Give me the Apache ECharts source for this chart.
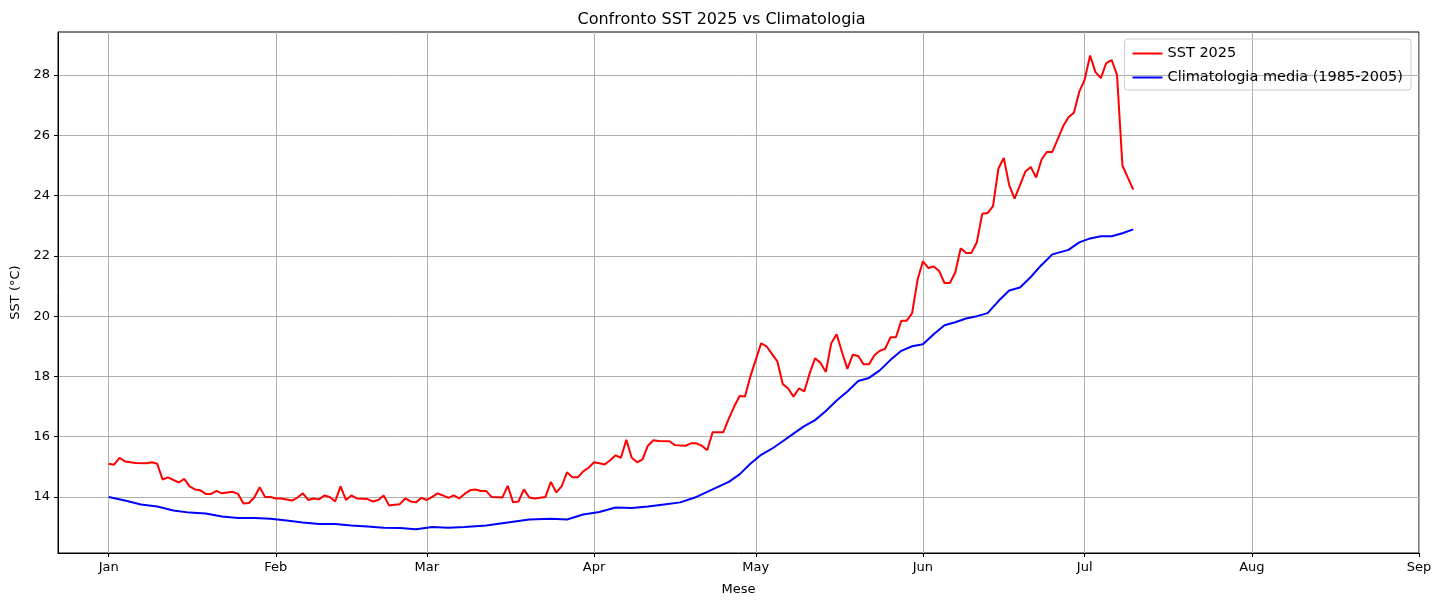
<!DOCTYPE html>
<html>
<head>
<meta charset="utf-8">
<script src="https://cdn.jsdelivr.net/npm/echarts@6/dist/echarts.min.js"></script>
<style>html,body{margin:0;background:#fff}#c{width:1443px;height:606px}</style>
</head>
<body>
<div id="c"></div>
<script>
// giorni dal 1 gennaio 2025
var monthDays = [0, 31, 59, 90, 120, 151, 181, 212, 243];
var monthLabels = ['Jan', 'Feb', 'Mar', 'Apr', 'May', 'Jun', 'Jul', 'Aug', 'Sep'];
var yTicks = [14, 16, 18, 20, 22, 24, 26, 28];

var sstDays = [0,1,2,3,5,7,8,9,10,11,13,14,15,16,17,18,19,20,21,23,24,25,26,27,28,
  29,30,31,32,34,35,36,37,38,39,40,41,42,43,
  44,45,46,48,49,50,51,52,53,54,55,56,57,58,59,60,61,62,63,64,65,66,67,68,69,70,71,73,74,75,76,77,78,79,81,82,83,84,85,86,87,88,89,90,
  91,92,93,94,95,96,97,98,99,100,101,102,104,105,107,108,109,110,111,112,113,114,115,116,117,118,119,120,121,122,123,124,125,126,127,128,129,130,131,132,133,134,135,136,137,138,139,140,141,142,143,144,145,146,147,148,149,150,151,
  152,153,154,155,156,157,158,159,160,161,162,163,164,165,166,167,168,169,170,171,172,173,174,175,177,178,179,180,181,182,183,184,185,186,187,188,189,190];
var sst2025 = [15.1,15.07,15.3,15.18,15.13,15.12,15.15,15.1,14.58,14.65,14.48,14.6,14.35,14.25,14.22,14.1,14.1,14.2,14.12,14.17,14.1,13.78,13.8,13.98,14.32,
  14.0,14.0,13.95,13.95,13.88,13.98,14.12,13.9,13.95,13.92,14.05,14.0,13.85,14.35,
  13.9,14.05,13.95,13.93,13.85,13.9,14.05,13.72,13.74,13.76,13.95,13.85,13.82,13.97,13.9,14.0,14.12,14.05,13.97,14.05,13.95,14.1,14.22,14.25,14.2,14.2,14.0,13.98,14.37,13.82,13.85,14.25,13.98,13.95,14.0,14.5,14.15,14.35,14.82,14.65,14.65,14.85,14.97,15.15,
  15.12,15.08,15.22,15.38,15.3,15.9,15.3,15.15,15.25,15.7,15.88,15.86,15.85,15.72,15.7,15.78,15.78,15.7,15.55,16.15,16.15,16.15,16.6,17.0,17.35,17.33,18.0,18.55,19.1,19.0,18.75,18.5,17.75,17.6,17.33,17.6,17.5,18.1,18.6,18.45,18.15,19.1,19.4,18.8,18.25,18.72,18.68,18.4,18.4,18.7,18.85,18.92,19.3,19.3,19.85,19.85,20.1,21.2,21.82,
  21.6,21.65,21.5,21.1,21.1,21.45,22.25,22.1,22.1,22.45,23.4,23.42,23.65,24.9,25.25,24.35,23.9,24.35,24.8,24.95,24.6,25.2,25.45,25.45,26.3,26.6,26.75,27.45,27.85,28.65,28.1,27.9,28.4,28.5,28.0,25.0,24.6,24.2];

var climDays = [0,3,6,9,12,15,18,21,24,27,30,33,36,39,42,45,48,51,54,57,60,63,66,70,74,78,82,85,88,91,94,97,100,103,106,109,112,115,117,119,121,123,125,127,129,131,133,135,137,139,141,143,145,147,149,151,153,155,157,159,161,163,165,167,169,171,173,175,178,180,182,184,186,188,190];
var climMedia = [14.0,13.88,13.75,13.68,13.55,13.48,13.45,13.35,13.3,13.3,13.28,13.22,13.15,13.1,13.1,13.05,13.02,12.98,12.97,12.93,13.0,12.98,13.0,13.05,13.15,13.25,13.28,13.25,13.42,13.5,13.65,13.63,13.68,13.75,13.82,14.0,14.25,14.5,14.75,15.1,15.4,15.6,15.85,16.1,16.35,16.55,16.85,17.2,17.5,17.85,17.95,18.2,18.55,18.85,19.0,19.07,19.4,19.7,19.8,19.92,20.0,20.1,20.5,20.85,20.95,21.3,21.7,22.05,22.2,22.45,22.58,22.65,22.65,22.75,22.88];

function pairs(xs, ys) {
  return xs.map(function (d, i) { return [d, ys[i]]; });
}

var chart = echarts.init(document.getElementById('c'));
var font = 'DejaVu Sans';
chart.setOption({
  animation: false,
  textStyle: { fontFamily: font },
  title: {
    text: 'Confronto SST 2025 vs Climatologia',
    left: 'center',
    top: 7,
    textStyle: { fontFamily: font, fontSize: 16, fontWeight: 'normal', color: '#000' }
  },
  legend: {
    orient: 'vertical',
    right: 32,
    top: 39,
    itemWidth: 30,
    itemHeight: 2,
    itemGap: 9,
    padding: [7, 8, 5, 8],
    borderColor: '#ccc',
    borderWidth: 1,
    borderRadius: 3,
    icon: 'rect',
    textStyle: { fontFamily: font, fontSize: 14.5, color: '#000' },
    data: ['SST 2025', 'Climatologia media (1985-2005)']
  },
  grid: { left: 58, right: 24, top: 32, bottom: 53, show: true, borderColor: '#000', borderWidth: 1 },
  xAxis: {
    type: 'value',
    min: -9.4,
    max: 243,
    name: 'Mese',
    nameLocation: 'middle',
    nameGap: 30,
    nameTextStyle: { fontFamily: font, fontSize: 13, color: '#000' },
    axisLine: { onZero: false, lineStyle: { color: '#000' } },
    axisTick: { show: true, length: 4, customValues: monthDays, lineStyle: { color: '#000' } },
    axisLabel: {
      customValues: monthDays,
      color: '#000', fontSize: 13, margin: 8,
      formatter: function (v) { return monthLabels[monthDays.indexOf(v)]; }
    },
    splitLine: { show: true, lineStyle: { color: '#b0b0b0', width: 1 } }
  },
  yAxis: {
    type: 'value',
    min: 12.14,
    max: 29.43,
    name: 'SST (°C)',
    nameLocation: 'middle',
    nameGap: 36,
    nameRotate: 90,
    nameTextStyle: { fontFamily: font, fontSize: 13, color: '#000' },
    axisLine: { show: true, onZero: false, lineStyle: { color: '#000' } },
    axisTick: { show: true, length: 4, customValues: yTicks, lineStyle: { color: '#000' } },
    axisLabel: { customValues: yTicks, color: '#000', fontSize: 13, margin: 8 },
    splitLine: { show: true, lineStyle: { color: '#b0b0b0', width: 1 } }
  },
  series: [{
    name: 'SST 2025',
    type: 'line',
    showSymbol: false,
    color: '#ff0000',
    lineStyle: { color: '#ff0000', width: 2 },
    data: pairs(sstDays, sst2025)
  }, {
    name: 'Climatologia media (1985-2005)',
    type: 'line',
    showSymbol: false,
    color: '#0000ff',
    lineStyle: { color: '#0000ff', width: 2 },
    data: pairs(climDays, climMedia)
  }]
});
</script>
</body>
</html>
